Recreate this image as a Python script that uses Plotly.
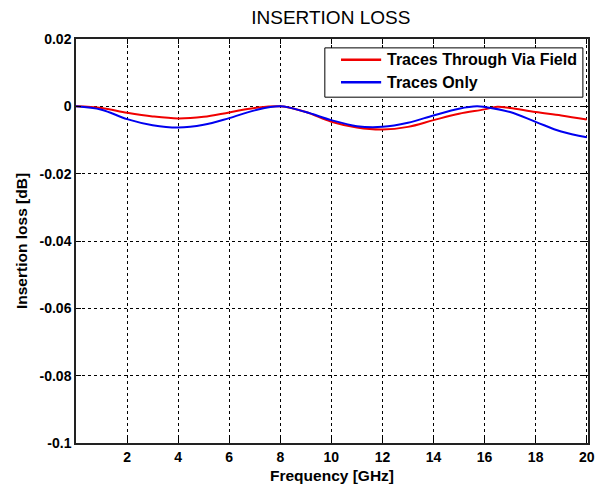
import plotly.graph_objects as go

# Frequency samples (GHz) and insertion loss (dB) for both configurations
freq_ghz = [0, 1, 2, 3, 4, 5, 6, 7, 8, 9, 10, 11, 12, 13, 14, 15, 16, 16.5, 17, 18, 19, 20]
loss_via_field = [0, -0.0005, -0.0019, -0.0030, -0.0036, -0.0031, -0.0018, -0.0005, 0,
                  -0.0017, -0.0046, -0.0063, -0.0069, -0.0061, -0.0041, -0.0022, -0.0009,
                  -0.0001, -0.0005, -0.0017, -0.0027, -0.0039]

freq_ghz_b = [0, 1, 2, 3, 4, 5, 6, 7, 8, 9, 10, 11, 12, 13, 14, 15, 15.7, 16, 17, 18, 19, 20]
loss_traces_only = [0, -0.0010, -0.0038, -0.0056, -0.0063, -0.0055, -0.0035, -0.0012, 0,
                    -0.0017, -0.0041, -0.0059, -0.0061, -0.0049, -0.0027, -0.0007, 0,
                    -0.0002, -0.0017, -0.0046, -0.0075, -0.0092]

series_names = ["Traces Through Via Field", "Traces Only"]
series_colors = ["#f00000", "#0000f0"]

x_ticks = [2, 4, 6, 8, 10, 12, 14, 16, 18, 20]
y_ticks = [0.02, 0, -0.02, -0.04, -0.06, -0.08, -0.1]
y_tick_labels = ["0.02", "0", "-0.02", "-0.04", "-0.06", "-0.08", "-0.1"]

FONT = "Liberation Sans, Arial, sans-serif"

fig = go.Figure()
for xs, ys, name, color in [(freq_ghz, loss_via_field, series_names[0], series_colors[0]),
                            (freq_ghz_b, loss_traces_only, series_names[1], series_colors[1])]:
    fig.add_trace(go.Scatter(x=xs, y=ys, mode="lines", name=name, showlegend=False,
                             line=dict(color=color, width=2, shape="spline", smoothing=1.0)))

axis_common = dict(
    showline=True, linecolor="#222222", linewidth=1.5, mirror="allticks",
    ticks="inside", ticklen=5, tickcolor="black",
    showgrid=True, gridcolor="black", gridwidth=1, griddash="3px,3px",
    zeroline=False, automargin=False,
    tickfont=dict(family=FONT, size=14, color="black", weight="bold"),
)

# Boxed legend in the upper right corner of the axes
legend_box = dict(x0=0.486, x1=0.990, y0=0.856, y1=0.978)
row_y = [0.9488, 0.8928]
sample_x = [0.5176, 0.5960]
text_x = 0.604

shapes = [dict(type="rect", xref="paper", yref="paper", **legend_box,
               line=dict(color="black", width=1), fillcolor="white", layer="above")]
annotations = []
for y, name, color in zip(row_y, series_names, series_colors):
    shapes.append(dict(type="line", xref="paper", yref="paper",
                       x0=sample_x[0], x1=sample_x[1], y0=y, y1=y,
                       line=dict(color=color, width=2.5), layer="above"))
    annotations.append(dict(text=name, xref="paper", yref="paper", x=text_x, y=y,
                            xanchor="left", yanchor="middle", showarrow=False,
                            font=dict(family=FONT, size=16, color="black", weight="bold")))

fig.update_layout(
    width=607, height=487,
    paper_bgcolor="white", plot_bgcolor="white",
    margin=dict(l=76, r=19, t=39, b=44),
    title=dict(text="INSERTION LOSS", x=0.545, xanchor="center", y=0.965, yanchor="middle",
               font=dict(family=FONT, size=19, color="black")),
    xaxis=dict(range=[0, 20.05], tickvals=x_ticks,
               title=dict(text="Frequency [GHz]", standoff=7,
                          font=dict(family=FONT, size=15.5, color="black", weight="bold")),
               **axis_common),
    yaxis=dict(range=[-0.1, 0.02], tickvals=y_ticks, ticktext=y_tick_labels,
               title=dict(text="Insertion loss [dB]", standoff=8,
                          font=dict(family=FONT, size=15.5, color="black", weight="bold")),
               **axis_common),
    shapes=shapes,
    annotations=annotations,
    showlegend=False,
)

fig.write_html("out.html")
